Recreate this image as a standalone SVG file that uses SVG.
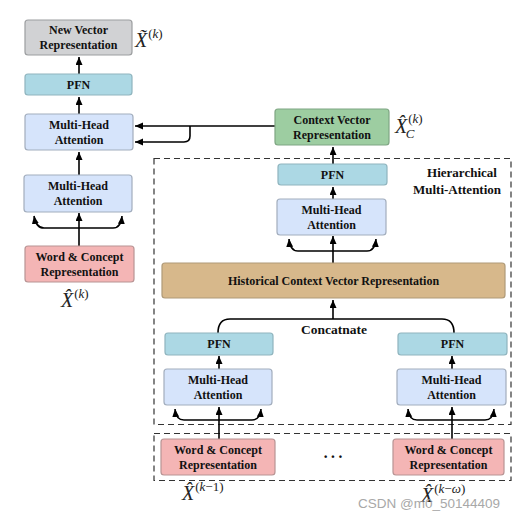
<svg xmlns="http://www.w3.org/2000/svg" width="529" height="520" viewBox="0 0 529 520">
<defs>
<marker id="ah" markerUnits="userSpaceOnUse" markerWidth="9" markerHeight="8" refX="8" refY="3.5" orient="auto">
<path d="M0,0 L8,3.5 L0,7 z" fill="#000"/>
</marker>
<style>
.b{stroke-width:1.2;rx:3}
.gray{fill:#d1d2d4;stroke:#9c9ea0}
.pfn{fill:#acd8e4;stroke:#8fb4be}
.mha{fill:#d6e4fb;stroke:#a2adbd}
.wcr{fill:#f4b5b5;stroke:#b89494}
.ctx{fill:#9dcda1;stroke:#7fa683}
.his{fill:#d7b88b;stroke:#b09a78}
.t{font-family:"Liberation Serif",serif;font-weight:bold;font-size:12px;text-anchor:middle;fill:#111}
.m{font-family:"Liberation Serif",serif;font-style:italic;font-size:20px;fill:#222}
.s{font-family:"Liberation Serif",serif;font-style:normal;font-size:13px;fill:#222}
.i{font-style:italic}
.c{fill:none;stroke:#000;stroke-width:1.6}
.d{fill:none;stroke:#333;stroke-width:1.2;stroke-dasharray:6,4}
</style>
</defs>

<g id="dashed-boxes">
<rect class="d" x="154" y="158.5" width="357" height="266"/>
<rect class="d" x="154" y="433.5" width="357" height="47"/>
</g>

<g id="connectors">
<path class="c" d="M79,74 V57" marker-end="url(#ah)"/>
<path class="c" d="M79,114 V97" marker-end="url(#ah)"/>
<path class="c" d="M79,175 V152" marker-end="url(#ah)"/>
<path class="c" d="M275,126 H135" marker-end="url(#ah)"/>
<path class="c" d="M190,126 V136 Q190,142 184,142 H135" marker-end="url(#ah)"/>
<path class="c" d="M79,246 V213" marker-end="url(#ah)"/>
<path class="c" d="M79,228 H44 Q36,228 34,216" marker-end="url(#ah)"/>
<path class="c" d="M79,228 H113 Q121,228 122,216" marker-end="url(#ah)"/>
<path class="c" d="M333,164 V147" marker-end="url(#ah)"/>
<path class="c" d="M333,199 V187" marker-end="url(#ah)"/>
<path class="c" d="M333,263 V236" marker-end="url(#ah)"/>
<path class="c" d="M333,251 H298 Q290,251 289,239" marker-end="url(#ah)"/>
<path class="c" d="M333,251 H367 Q375,251 376,239" marker-end="url(#ah)"/>
<path class="c" d="M333,319 V300" marker-end="url(#ah)"/>
<path class="c" d="M218,333 Q218,319 230,319 H442 Q454,319 454,333"/>
<path class="c" d="M219,369 V356" marker-end="url(#ah)"/>
<path class="c" d="M219,439 V407" marker-end="url(#ah)"/>
<path class="c" d="M219,420 H184 Q176,420 175,409" marker-end="url(#ah)"/>
<path class="c" d="M219,420 H252 Q260,420 261,409" marker-end="url(#ah)"/>
<path class="c" d="M452,369 V356" marker-end="url(#ah)"/>
<path class="c" d="M452,439 V407" marker-end="url(#ah)"/>
<path class="c" d="M452,420 H417 Q409,420 408,409" marker-end="url(#ah)"/>
<path class="c" d="M452,420 H485 Q493,420 494,409" marker-end="url(#ah)"/>
</g>

<g id="new-vector">
<rect class="b gray" x="25" y="20" width="107" height="35"/>
<text class="t" x="78.5" y="34">New Vector</text>
<text class="t" x="78.5" y="49">Representation</text>
</g>
<g id="pfn-left">
<rect class="b pfn" x="25" y="74" width="107" height="21"/>
<text class="t" x="78.5" y="89">PFN</text>
</g>
<g id="mha-left-top">
<rect class="b mha" x="25" y="114" width="108" height="36"/>
<text class="t" x="79" y="129">Multi-Head</text>
<text class="t" x="79" y="144">Attention</text>
</g>
<g id="mha-left">
<rect class="b mha" x="24" y="175" width="108" height="37"/>
<text class="t" x="78" y="190">Multi-Head</text>
<text class="t" x="78" y="205">Attention</text>
</g>
<g id="wcr-left">
<rect class="b wcr" x="25" y="246" width="109" height="36"/>
<text class="t" x="79.5" y="261">Word &amp; Concept</text>
<text class="t" x="79.5" y="276">Representation</text>
</g>

<g id="context-vector">
<rect class="b ctx" x="275" y="109" width="114" height="36"/>
<text class="t" x="332" y="124">Context Vector</text>
<text class="t" x="332" y="139">Representation</text>
</g>
<g id="pfn-top">
<rect class="b pfn" x="278" y="164" width="109" height="21"/>
<text class="t" x="332.5" y="179">PFN</text>
</g>
<g id="mha-top">
<rect class="b mha" x="277" y="199" width="109" height="36"/>
<text class="t" x="331.5" y="214">Multi-Head</text>
<text class="t" x="331.5" y="229">Attention</text>
</g>
<g id="historical">
<rect class="b his" x="162" y="263" width="343" height="35"/>
<text class="t" x="333.5" y="285">Historical Context Vector Representation</text>
</g>
<g id="pfn-b1">
<rect class="b pfn" x="165" y="333" width="108" height="22"/>
<text class="t" x="219" y="348">PFN</text>
</g>
<g id="pfn-b2">
<rect class="b pfn" x="398" y="333" width="109" height="22"/>
<text class="t" x="452.5" y="348">PFN</text>
</g>
<g id="mha-b1">
<rect class="b mha" x="164" y="369" width="108" height="36"/>
<text class="t" x="218" y="384">Multi-Head</text>
<text class="t" x="218" y="399">Attention</text>
</g>
<g id="mha-b2">
<rect class="b mha" x="397" y="369" width="109" height="36"/>
<text class="t" x="451.5" y="384">Multi-Head</text>
<text class="t" x="451.5" y="399">Attention</text>
</g>
<g id="wcr-b1">
<rect class="b wcr" x="161" y="439" width="114" height="36"/>
<text class="t" x="218" y="454">Word &amp; Concept</text>
<text class="t" x="218" y="469">Representation</text>
</g>
<g id="wcr-b2">
<rect class="b wcr" x="393" y="439" width="111" height="36"/>
<text class="t" x="448.5" y="454">Word &amp; Concept</text>
<text class="t" x="448.5" y="469">Representation</text>
</g>

<g id="labels">
<text class="t" x="462" y="177" style="font-size:13px">Hierarchical</text>
<text class="t" x="457" y="194" style="font-size:13px">Multi-Attention</text>
<text class="t" x="334" y="334" style="font-size:13.5px">Concatnate</text>
<text class="t" x="334" y="462" style="font-size:16px;letter-spacing:2px">···</text>
<text class="m" x="135" y="47">X̃<tspan class="s" dx="1" dy="-9">(</tspan><tspan class="s i">k</tspan><tspan class="s">)</tspan></text>
<text class="m" x="395" y="133">X̂<tspan class="s" dx="1" dy="-10">(</tspan><tspan class="s i">k</tspan><tspan class="s">)</tspan><tspan class="s i" dx="-17" dy="15">C</tspan></text>
<text class="m" x="61" y="307">X̂<tspan class="s" dx="1" dy="-9">(</tspan><tspan class="s i">k</tspan><tspan class="s">)</tspan></text>
<text class="m" x="182" y="500">X̂<tspan class="s" dx="1" dy="-9">(</tspan><tspan class="s i">k</tspan><tspan class="s">−1)</tspan></text>
<text class="m" x="421" y="502">X̂<tspan class="s" dx="1" dy="-9">(</tspan><tspan class="s i">k</tspan><tspan class="s">−</tspan><tspan class="s i">ω</tspan><tspan class="s">)</tspan></text>
<text x="358" y="508" style="font-family:'Liberation Sans',sans-serif;font-size:13.5px;fill:#999;opacity:0.85">CSDN @m0_50144409</text>
</g>
</svg>
